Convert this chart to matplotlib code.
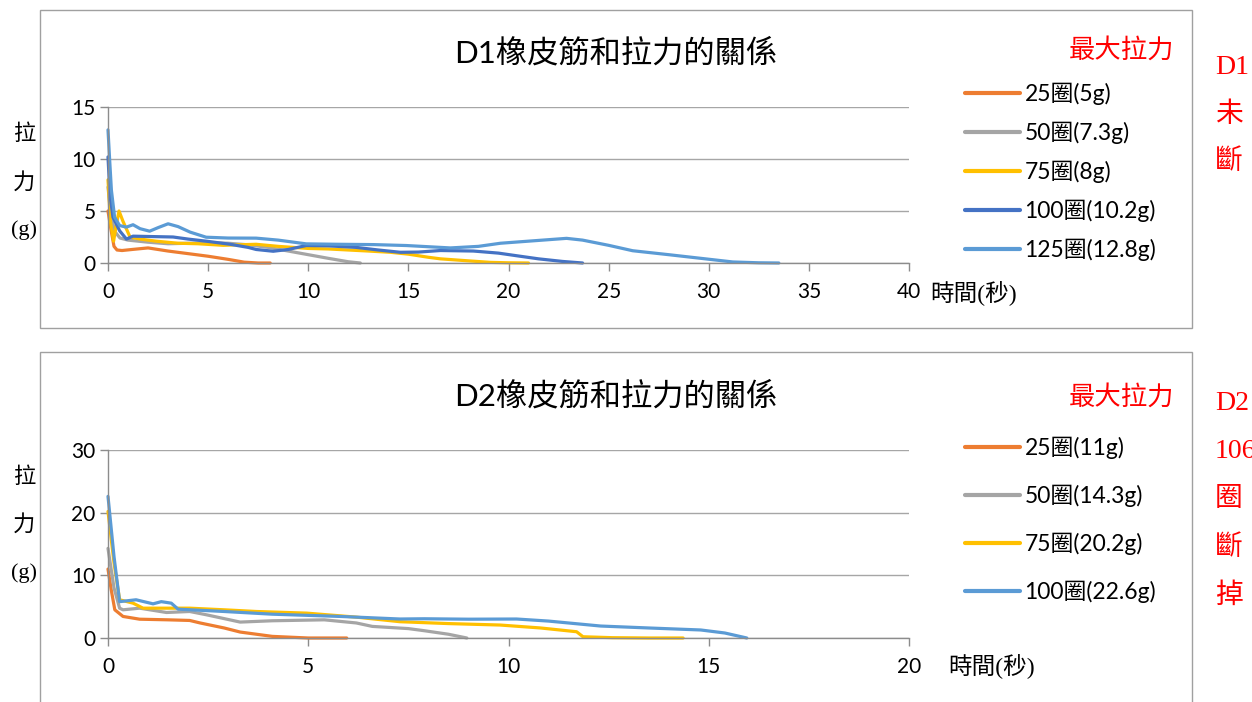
import matplotlib
matplotlib.use("Agg")
import matplotlib.pyplot as plt
from matplotlib.patches import Rectangle

plt.rcParams['font.family'] = ['Lato', 'Noto Sans CJK TC', 'DejaVu Sans']

W, H = 1252, 702

# series colours (Office palette)
COLORS = ["#ED7D31", "#A5A5A5", "#FFC000", "#4472C4", "#5B9BD5"]

# ---- D1 data: time (s) / force (g) ----
d1_labels = ["25圈(5g)", "50圈(7.3g)", "75圈(8g)", "100圈(10.2g)", "125圈(12.8g)"]

d1_t25 = [0, 0.15, 0.3, 0.45, 0.7, 1.2, 2.0, 3.0, 4.0, 5.0, 6.0, 6.8, 7.5, 8.1]
d1_f25 = [5.0, 3.2, 1.6, 1.25, 1.2, 1.3, 1.45, 1.15, 0.9, 0.65, 0.35, 0.08, 0.0, 0.0]

d1_t50 = [0, 0.15, 0.35, 0.6, 1.0, 2.0, 3.0, 4.0, 5.0, 6.0, 7.0, 8.0, 9.0, 10.0, 11.0, 12.0, 12.6]
d1_f50 = [7.3, 4.5, 3.0, 2.4, 2.2, 2.0, 1.85, 1.9, 1.95, 1.9, 1.75, 1.5, 1.15, 0.8, 0.45, 0.12, 0.0]

d1_t75 = [0, 0.12, 0.28, 0.4, 0.55, 0.75, 1.1, 1.6, 2.4, 3.5, 4.5, 5.75, 6.5, 7.4, 8.5,
          10, 11, 12, 13, 14.1, 15, 16, 16.6, 17.9, 19.1, 20.0, 21.0]
d1_f75 = [8.0, 4.0, 2.1, 3.5, 5.0, 4.0, 2.5, 2.3, 2.1, 1.9, 1.85, 1.7, 1.75, 1.8, 1.6,
          1.4, 1.35, 1.25, 1.15, 1.03, 0.85, 0.55, 0.4, 0.22, 0.06, 0.02, 0.0]

d1_t100 = [0, 0.1, 0.25, 0.58, 0.92, 1.25, 2.0, 3.25, 4.0, 4.9, 6.1, 7.0, 7.4, 8.25, 9.0,
           9.9, 11, 12.4, 13.5, 14.6, 15.5, 16.6, 18.25, 19.5, 20.4, 21.5, 22.7, 23.7]
d1_f100 = [10.2, 6.5, 4.4, 3.1, 2.3, 2.58, 2.55, 2.5, 2.3, 2.1, 1.8, 1.5, 1.3, 1.13, 1.3,
           1.68, 1.65, 1.5, 1.25, 1.03, 1.05, 1.2, 1.15, 0.95, 0.7, 0.4, 0.15, 0.0]

d1_t125 = [0, 0.08, 0.17, 0.33, 0.58, 0.92, 1.25, 1.6, 2.08, 2.5, 3.0, 3.5, 4.1, 4.9, 6,
           7.4, 8.5, 9.9, 11.5, 13.25, 14.9, 17.1, 18.5, 19.6, 21, 22.9, 23.7, 25, 26.2,
           28, 29.6, 31.2, 32.5, 33.5]
d1_f125 = [12.8, 10.0, 7.0, 4.4, 3.6, 3.45, 3.68, 3.3, 3.06, 3.4, 3.77, 3.5, 2.97, 2.48, 2.4,
           2.39, 2.2, 1.84, 1.8, 1.77, 1.68, 1.45, 1.6, 1.9, 2.1, 2.37, 2.2, 1.7, 1.18,
           0.8, 0.45, 0.1, 0.02, 0.0]

# ---- D2 data ----
d2_labels = ["25圈(11g)", "50圈(14.3g)", "75圈(20.2g)", "100圈(22.6g)"]

d2_t25 = [0, 0.08, 0.17, 0.375, 0.79, 1.5, 2.04, 2.3, 2.9, 3.3, 4.1, 5.0, 5.96]
d2_f25 = [11.0, 7.7, 4.5, 3.44, 3.0, 2.9, 2.8, 2.4, 1.6, 0.95, 0.26, 0.0, 0.0]

d2_t50 = [0, 0.15, 0.29, 0.375, 0.79, 1.46, 2.04, 2.46, 3.3, 4.1, 5.4, 6.2, 6.6, 7.5, 7.9, 8.5, 8.96]
d2_f50 = [14.3, 8.0, 4.76, 4.5, 4.76, 4.07, 4.23, 3.7, 2.54, 2.75, 2.9, 2.4, 1.85, 1.5, 1.16, 0.6, 0.0]

d2_t75 = [0, 0.15, 0.29, 0.625, 0.875, 2.04, 2.9, 3.7, 4.96, 6.2, 7.29, 8.5, 9.79, 10.8,
          11.7, 11.86, 12.6, 13.5, 14.36]
d2_f75 = [20.2, 12.0, 6.1, 5.56, 4.76, 4.76, 4.5, 4.23, 3.97, 3.33, 2.6, 2.3, 2.07, 1.6,
          1.0, 0.2, 0.05, 0.0, 0.0]

d2_t100 = [0, 0.15, 0.29, 0.7, 1.125, 1.33, 1.58, 1.75, 2.9, 4.1, 5.8, 7.29, 7.9, 9, 10.2,
           11, 12.3, 13.5, 14.8, 15.4, 15.95]
d2_f100 = [22.6, 13.0, 5.8, 6.1, 5.45, 5.8, 5.56, 4.6, 4.23, 3.8, 3.44, 3.03, 3.07, 3.0, 3.03,
           2.7, 1.91, 1.6, 1.28, 0.8, 0.0]

d1_xticks = [0, 5, 10, 15, 20, 25, 30, 35, 40]
d1_yticks = [0, 5, 10, 15]
d2_xticks = [0, 5, 10, 15, 20]
d2_yticks = [0, 10, 20, 30]

GRID = "#A6A6A6"
AXIS = "#8C8C8C"
RED = "#FF0000"
SERIF_CJK = ['Liberation Serif', 'Noto Sans CJK TC']


def px_rect(x0, y0, x1, y1):
    # pixel box (top-left origin) -> figure fraction [l, b, w, h]
    return [x0 / W, 1 - y1 / H, (x1 - x0) / W, (y1 - y0) / H]


def fx(x):
    return x / W


def fy(y):
    return 1 - y / H


def setup_axes(ax, xticks, yticks):
    ax.set_xlim(xticks[0], xticks[-1])
    ax.set_ylim(yticks[0], yticks[-1])
    ax.set_xticks(xticks)
    ax.set_yticks(yticks)
    for s in ("top", "right"):
        ax.spines[s].set_visible(False)
    for s in ("left", "bottom"):
        ax.spines[s].set_color(AXIS)
        ax.spines[s].set_linewidth(1.0)
    ax.tick_params(axis="both", direction="out", length=6, width=1, color=AXIS,
                   labelsize=15, labelcolor="black")
    ax.tick_params(axis="x", pad=8)
    ax.tick_params(axis="y", pad=3)
    ax.grid(axis="y", color=GRID, linewidth=1.0)
    ax.set_axisbelow(True)
    ax.patch.set_alpha(0)


fig = plt.figure(figsize=(W / 100, H / 100), dpi=100)

# chart frames
fig.patches.append(Rectangle((fx(40), fy(328)), (1192 - 40) / W, (328 - 10) / H,
                             transform=fig.transFigure, fill=False, edgecolor="#A0A0A0", lw=1))
fig.patches.append(Rectangle((fx(40), fy(760)), (1192 - 40) / W, (760 - 352) / H,
                             transform=fig.transFigure, fill=False, edgecolor="#A0A0A0", lw=1))

# ---- D1 chart ----
ax1 = fig.add_axes(px_rect(108, 107, 909, 263))
setup_axes(ax1, d1_xticks, d1_yticks)
d1_series = [(d1_t25, d1_f25), (d1_t50, d1_f50), (d1_t75, d1_f75),
             (d1_t100, d1_f100), (d1_t125, d1_f125)]
for (t, f), c, lab in zip(d1_series, COLORS, d1_labels):
    ax1.plot(t, f, color=c, lw=2.3, label=lab, solid_capstyle="round", clip_on=False)

fig.text(fx(616), fy(53), "D1橡皮筋和拉力的關係", ha="center", va="center", fontsize=22.5)
fig.text(fx(930), fy(293), "時間(秒)", ha="left", va="center", fontsize=17, family=SERIF_CJK)
for s, y in zip(["拉", "力", "(g)"], [135, 183, 230]):
    fig.text(fx(24), fy(y), s, ha="center", va="center", fontsize=16, family=SERIF_CJK)

fig.text(fx(1122), fy(50), "最大拉力", ha="center", va="center", fontsize=19, color=RED)
leg1 = ax1.legend(loc="upper left", bbox_to_anchor=(fx(965), fy(83)),
                  bbox_transform=fig.transFigure, frameon=False, fontsize=16.5,
                  handlelength=2.4, handletextpad=0.2, labelspacing=0.72,
                  borderpad=0, borderaxespad=0)
for line in leg1.get_lines():
    line.set_linewidth(3)

for s, y in zip(["D1", "未", "斷"], [68, 115, 162]):
    fig.text(fx(1215), fy(y), s, ha="left", va="center", fontsize=20, color=RED,
             family=SERIF_CJK)

# ---- D2 chart ----
ax2 = fig.add_axes(px_rect(108, 450, 909, 638))
setup_axes(ax2, d2_xticks, d2_yticks)
d2_series = [(d2_t25, d2_f25), (d2_t50, d2_f50), (d2_t75, d2_f75), (d2_t100, d2_f100)]
for (t, f), c, lab in zip(d2_series, [COLORS[0], COLORS[1], COLORS[2], COLORS[4]], d2_labels):
    ax2.plot(t, f, color=c, lw=2.3, label=lab, solid_capstyle="round", clip_on=False)

fig.text(fx(616), fy(396), "D2橡皮筋和拉力的關係", ha="center", va="center", fontsize=22.5)
fig.text(fx(948), fy(666), "時間(秒)", ha="left", va="center", fontsize=17, family=SERIF_CJK)
for s, y in zip(["拉", "力", "(g)"], [478, 525, 573]):
    fig.text(fx(24), fy(y), s, ha="center", va="center", fontsize=16, family=SERIF_CJK)

fig.text(fx(1122), fy(397), "最大拉力", ha="center", va="center", fontsize=19, color=RED)
leg2 = ax2.legend(loc="upper left", bbox_to_anchor=(fx(965), fy(437)),
                  bbox_transform=fig.transFigure, frameon=False, fontsize=16.5,
                  handlelength=2.4, handletextpad=0.2, labelspacing=1.12,
                  borderpad=0, borderaxespad=0)
for line in leg2.get_lines():
    line.set_linewidth(3)

# the note column runs off the right edge of the figure
for s, y in zip(["D2", "106", "圈", "斷", "掉"], [403, 452, 500, 548, 596]):
    fig.text(fx(1215), fy(y), s, ha="left", va="center", fontsize=20, color=RED,
             family=SERIF_CJK)

fig.savefig("out.png", dpi=100)
